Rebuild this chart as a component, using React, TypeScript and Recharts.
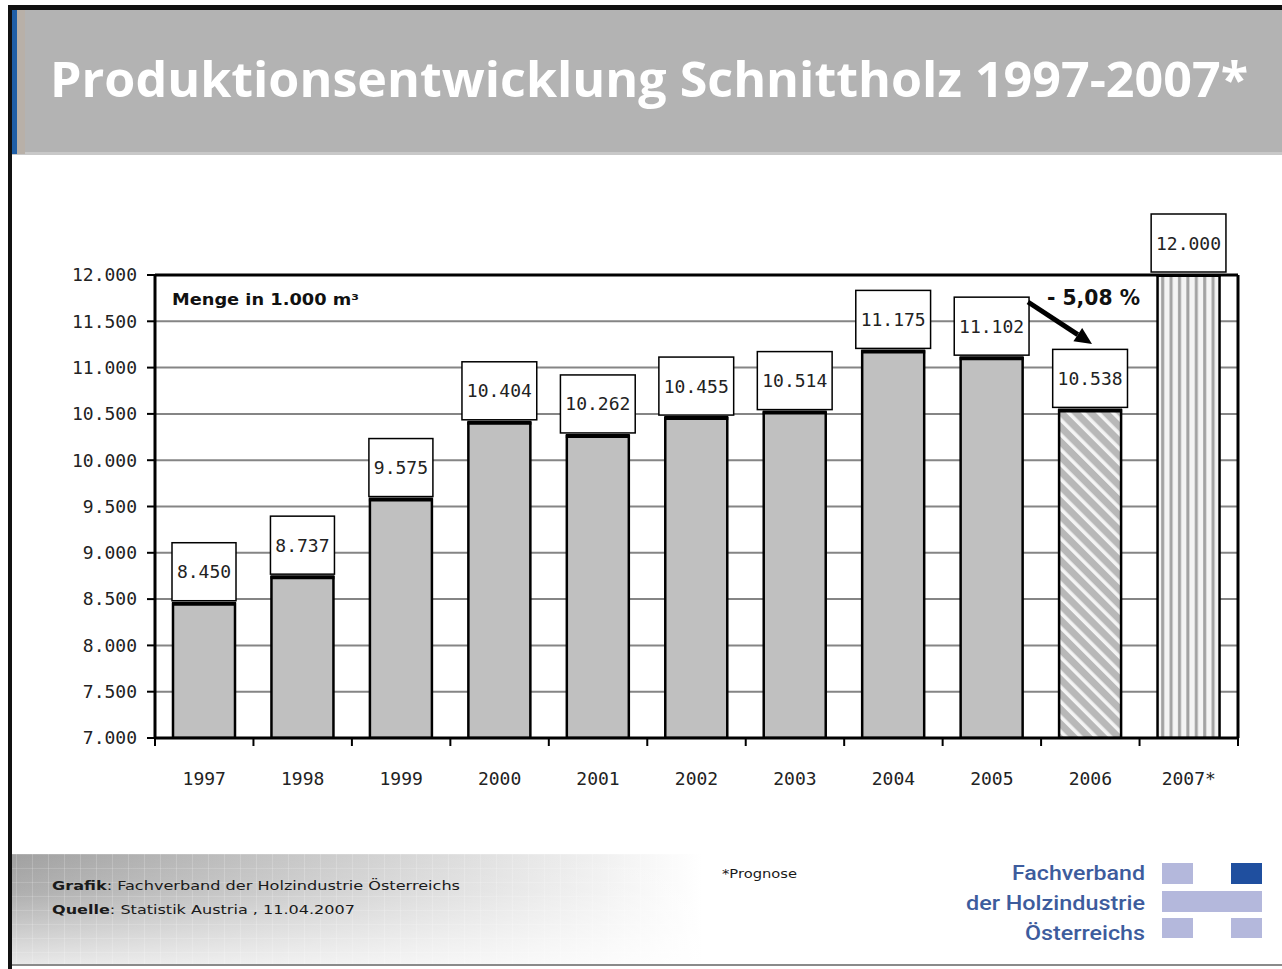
import React from 'react';
import { BarChart, Bar, XAxis, YAxis, CartesianGrid, Cell, LabelList } from 'recharts';

// ---- data ----
const years: string[] = ['1997', '1998', '1999', '2000', '2001', '2002', '2003', '2004', '2005', '2006', '2007*'];
const production: number[] = [8450, 8737, 9575, 10404, 10262, 10455, 10514, 11175, 11102, 10538, 12000];
const yTicks: number[] = [7000, 7500, 8000, 8500, 9000, 9500, 10000, 10500, 11000, 11500, 12000];
const yDomain: [number, number] = [7000, 12000];

const data = years.map((year, i) => ({ year, value: production[i] }));

// ---- styles ----
const MONO = '"DejaVu Sans Mono", monospace';
const TEXT_DARK = '#222';
const BAR_GRAY = '#c0c0c0';
const specialFill: Record<string, string> = { '2006': 'url(#diagStripes)', '2007*': 'url(#vertStripes)' };

const fmt = (v: number): string => {
  const s = String(Math.round(v));
  return s.replace(/\B(?=(\d{3})+(?!\d))/g, '.');
};

const BarShape = (props: any) => {
  const { x, y, width, height, fill } = props;
  if (height == null || width == null) return null;
  return (
    <g>
      <rect x={x} y={y} width={width} height={height} fill={fill} stroke="#000" strokeWidth={2.5} />
      <line x1={x - 1} x2={x + width + 1} y1={y} y2={y} stroke="#000" strokeWidth={4} />
    </g>
  );
};

const ValueLabel = (props: any) => {
  const { x, y, width, value } = props;
  const text = fmt(Number(value));
  const w = text.length * 10.8 + 10;
  const h = 58;
  const cx = x + width / 2;
  const top = y - h - 3;
  return (
    <g>
      <rect x={cx - w / 2} y={top} width={w} height={h} fill="#fff" stroke="#000" strokeWidth={1.5} />
      <text x={cx} y={top + h / 2} textAnchor="middle" dominantBaseline="central" fontFamily={MONO} fontSize={18} fill={TEXT_DARK}>
        {text}
      </text>
    </g>
  );
};

const CategoryTick = (props: any) => {
  const { x, y, payload } = props;
  const off = payload && payload.offset ? payload.offset : 0;
  const isLast = payload && payload.value === years[years.length - 1];
  return (
    <g>
      <line x1={x - off} x2={x - off} y1={y} y2={y + 8} stroke="#000" strokeWidth={2} />
      {isLast && <line x1={x + off} x2={x + off} y1={y} y2={y + 8} stroke="#000" strokeWidth={2} />}
      <text x={x} y={y + 40} textAnchor="middle" dominantBaseline="central" fontFamily={MONO} fontSize={18} fill={TEXT_DARK}>
        {payload.value}
      </text>
    </g>
  );
};

const Background = () => (
  <svg width={1282} height={969} style={{ position: 'absolute', left: 0, top: 0 }}>
    <defs>
      <pattern id="diagStripes" patternUnits="userSpaceOnUse" width={10.5} height={10.5} patternTransform="rotate(-45)">
        <rect x={0} y={0} width={10.5} height={10.5} fill="#b8b8b8" />
        <rect x={0} y={0} width={3.5} height={10.5} fill="#f4f4f4" />
      </pattern>
      <pattern id="vertStripes" patternUnits="userSpaceOnUse" width={8.4} height={10}>
        <rect x={0} y={0} width={8.4} height={10} fill="#f4f4f4" />
        <rect x={2} y={0} width={3} height={10} fill="#a2a2a2" />
      </pattern>
      <linearGradient id="footH" x1="0" y1="0" x2="1" y2="0">
        <stop offset="0" stopColor="#a0a0a0" />
        <stop offset="0.45" stopColor="#cbcbcb" />
        <stop offset="0.85" stopColor="#f0f0f0" />
        <stop offset="1" stopColor="#ffffff" />
      </linearGradient>
      <linearGradient id="footV" x1="0" y1="0" x2="0" y2="1">
        <stop offset="0" stopColor="#ffffff" stopOpacity={0} />
        <stop offset="0.35" stopColor="#ffffff" stopOpacity={0.15} />
        <stop offset="1" stopColor="#ffffff" stopOpacity={0.75} />
      </linearGradient>
      <pattern id="footGrid" patternUnits="userSpaceOnUse" width={16} height={14}>
        <line x1={0} x2={0} y1={0} y2={14} stroke="#ffffff" strokeOpacity={0.35} strokeWidth={1} />
        <line x1={0} x2={16} y1={0} y2={0} stroke="#ffffff" strokeOpacity={0.3} strokeWidth={1} />
      </pattern>
    </defs>
    <rect x={0} y={0} width={1282} height={969} fill="#ffffff" />
    {/* frame */}
    <rect x={8} y={5} width={1274} height={5} fill="#111" />
    <rect x={8} y={5} width={4} height={964} fill="#111" />
    <rect x={12} y={964} width={1270} height={2} fill="#8a8a8a" />
    {/* title banner */}
    <rect x={12} y={10} width={1270} height={144} fill="#b3b3b3" />
    <rect x={12} y={152} width={1270} height={3} fill="#c8c8c8" />
    <rect x={12} y={10} width={5} height={144} fill="#1f5ea6" />
    <rect x={17} y={10} width={8} height={144} fill="#b8b0a8" />
    <text x={50} y={97} fill="#ffffff" fontFamily='"Open Sans", sans-serif' fontWeight="bold" fontSize={49} textLength={1198} lengthAdjust="spacingAndGlyphs">
      Produktionsentwicklung Schnittholz 1997-2007*
    </text>
    {/* footer band */}
    <rect x={12} y={854} width={690} height={110} fill="url(#footH)" />
    <rect x={12} y={854} width={690} height={110} fill="url(#footGrid)" />
    <rect x={12} y={854} width={690} height={110} fill="url(#footV)" />
    <text x={52} y={890} fontFamily='"DejaVu Sans", sans-serif' fontSize={13} fill="#1a1a1a" textLength={408} lengthAdjust="spacingAndGlyphs">
      <tspan fontWeight="bold">Grafik</tspan>: Fachverband der Holzindustrie Österreichs
    </text>
    <text x={52} y={914} fontFamily='"DejaVu Sans", sans-serif' fontSize={13} fill="#1a1a1a" textLength={303} lengthAdjust="spacingAndGlyphs">
      <tspan fontWeight="bold">Quelle</tspan>: Statistik Austria , 11.04.2007
    </text>
    <text x={722} y={878} fontFamily='"DejaVu Sans", sans-serif' fontSize={12} fill="#1a1a1a" textLength={75} lengthAdjust="spacingAndGlyphs">
      *Prognose
    </text>
    {/* logo */}
    <text x={1145} y={880} textAnchor="end" fontFamily='Roboto, sans-serif' fontWeight={500} fontSize={21} fill="#3d5c9d" textLength={133} lengthAdjust="spacingAndGlyphs">Fachverband</text>
    <text x={1145} y={910} textAnchor="end" fontFamily='Roboto, sans-serif' fontWeight={500} fontSize={21} fill="#3d5c9d" textLength={179} lengthAdjust="spacingAndGlyphs">der Holzindustrie</text>
    <text x={1145} y={940} textAnchor="end" fontFamily='Roboto, sans-serif' fontWeight={500} fontSize={21} fill="#3d5c9d" textLength={120} lengthAdjust="spacingAndGlyphs">Österreichs</text>
    <rect x={1162} y={863} width={31} height={21} fill="#b4b8dc" />
    <rect x={1231} y={863} width={31} height={21} fill="#1f4f9f" />
    <rect x={1162} y={891} width={100} height={21} fill="#b4b8dc" />
    <rect x={1162} y={918} width={31} height={20} fill="#b4b8dc" />
    <rect x={1231} y={918} width={31} height={20} fill="#b4b8dc" />
  </svg>
);

const Overlay = () => {
  const tip = { x: 1092, y: 344 };
  const start = { x: 1028, y: 302 };
  const dx = tip.x - start.x;
  const dy = tip.y - start.y;
  const len = Math.sqrt(dx * dx + dy * dy);
  const ux = dx / len;
  const uy = dy / len;
  const bx = tip.x - 17 * ux;
  const by = tip.y - 17 * uy;
  const nx = -uy;
  const ny = ux;
  return (
    <svg width={1282} height={969} style={{ position: 'absolute', left: 0, top: 0, pointerEvents: 'none' }}>
      <text x={172} y={305} fontFamily='"DejaVu Sans", sans-serif' fontWeight="bold" fontSize={16} fill="#111" textLength={187} lengthAdjust="spacingAndGlyphs">
        Menge in 1.000 m³
      </text>
      <text x={1047} y={305} fontFamily='"DejaVu Sans", sans-serif' fontWeight="bold" fontSize={22} fill="#111" textLength={93} lengthAdjust="spacingAndGlyphs">
        - 5,08 %
      </text>
      <line x1={start.x} y1={start.y} x2={bx} y2={by} stroke="#000" strokeWidth={5} />
      <polygon
        points={`${tip.x},${tip.y} ${bx + 8 * nx},${by + 8 * ny} ${bx - 8 * nx},${by - 8 * ny}`}
        fill="#000"
      />
    </svg>
  );
};

export default function App() {
  return (
    <div style={{ position: 'absolute', left: 0, top: 0, width: 1282, height: 969, overflow: 'hidden', background: '#fff' }}>
      <Background />
      <div style={{ position: 'absolute', left: 0, top: 0 }}>
        <BarChart width={1282} height={969} data={data} margin={{ top: 274, right: 43, bottom: 171, left: 65 }} barSize={62}>
          <CartesianGrid horizontal vertical={false} stroke="#858585" strokeWidth={2} />
          <XAxis
            dataKey="year"
            interval={0}
            height={60}
            tickLine={false}
            tickSize={0}
            tickMargin={0}
            axisLine={{ stroke: '#000', strokeWidth: 3 }}
            tick={<CategoryTick />}
          />
          <XAxis xAxisId="top" orientation="top" dataKey="year" height={1} tick={false} tickLine={false} axisLine={{ stroke: '#000', strokeWidth: 3 }} />
          <YAxis
            domain={yDomain}
            ticks={yTicks}
            interval={0}
            allowDataOverflow
            width={90}
            tickFormatter={fmt}
            tickSize={8}
            tickMargin={10}
            tickLine={{ stroke: '#000', strokeWidth: 2 }}
            axisLine={{ stroke: '#000', strokeWidth: 3 }}
            tick={{ fontFamily: MONO, fontSize: 18, fill: TEXT_DARK }}
          />
          <YAxis yAxisId="r" orientation="right" domain={yDomain} allowDataOverflow width={1} tick={false} tickLine={false} axisLine={{ stroke: '#000', strokeWidth: 3 }} />
          <Bar dataKey="value" isAnimationActive={false} shape={<BarShape />}>
            {data.map((d) => (
              <Cell key={d.year} fill={specialFill[d.year] || BAR_GRAY} />
            ))}
            <LabelList dataKey="value" content={<ValueLabel />} />
          </Bar>
        </BarChart>
      </div>
      <Overlay />
    </div>
  );
}
